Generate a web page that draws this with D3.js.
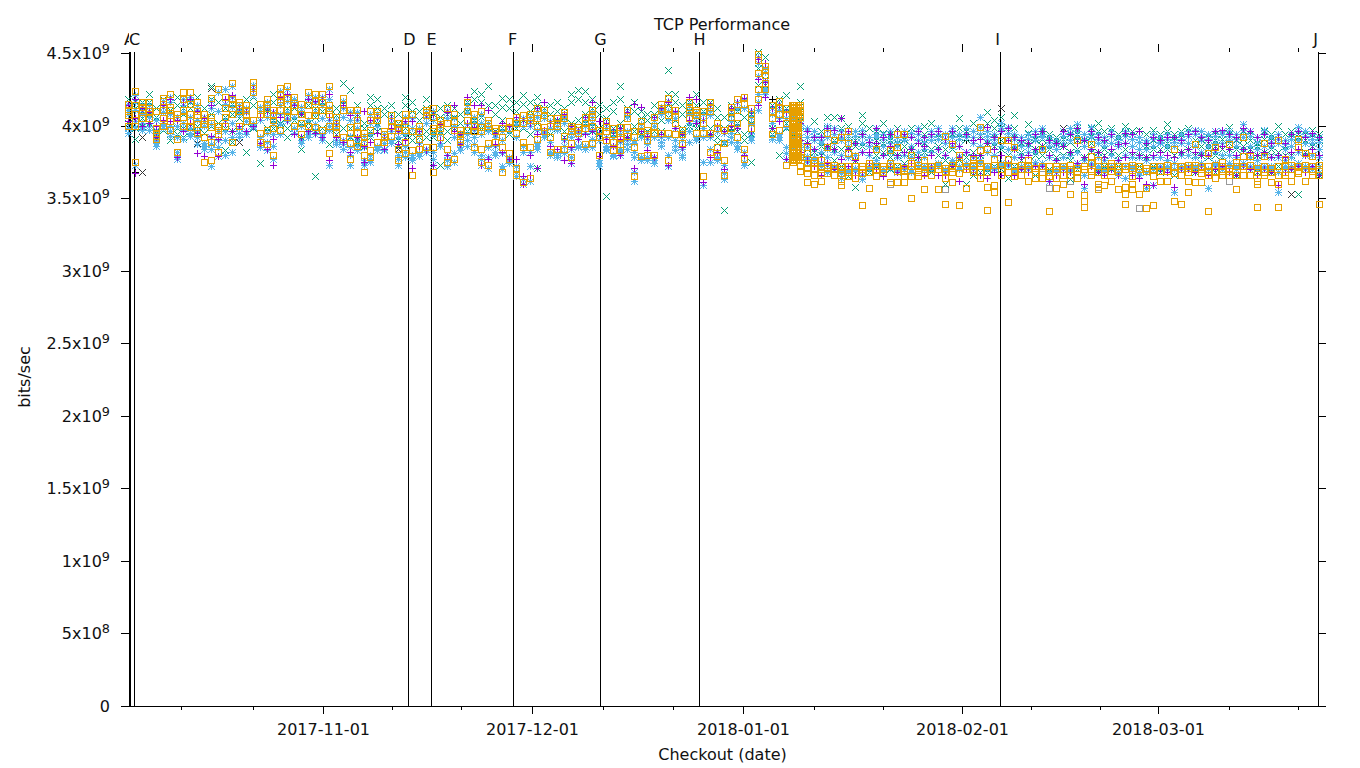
<!DOCTYPE html>
<html><head><meta charset="utf-8">
<script src="https://cdn.jsdelivr.net/npm/d3@7"></script>
<style>html,body{margin:0;background:#fff}svg{display:block}text{font-family:"DejaVu Sans";font-size:16px;fill:#111}</style>
</head><body><svg id="c" width="1360" height="768"></svg>
<script>
// values are in units of 1e7 bits/sec; each inner list is one day column, first column is day -1 (day 0 = 2017-10-05)
const firstDay = -1;
const orange = [
[415,407,400],[424,414,408,400,375],[416,411,405],[416,410,405],[410,398,395,391],[419,415,411,405,400],[422,411,407,403,397],[408,391,382],[423,411,406,400],[423,408,404,399],[416,407,401,395],[408,404,392,375],[419,403,399,389,376],[425,397,394,382],[420,406,400],[429,415,408,389],[416,414,410,400],[414,408,403],[430,423,404],[415,408,395,389],[418,412,408,397,387],[411,404,398,380],[426,421,416,411,397],[427,419,411,406],[420,410,400],[415,402,394],[423,407,400],[422,411,407,399],
[422,411,397],[427,414,408,400,381],[406,400,395],[419,411,392],[411,395,388,377],[411,400,395,386],[395,389,380,368],[410,397,383,378],[410,404,389],[396,392,389],[407,400,393],[402,397,384,376],[408,397,389,381],[408,383,366],[400,391,384],[411,407,385],[412,398,396,385,368],[404,398,392],[412,384,375],[408,397,377],[397,391,389],[416,404,397],[408,400,396,385],[410,396,384,375],[404,400,388,373],[396,389],[398,385,368],[403,381,377],[406,395,371,366],
[407,389,385,361],[408,404,385,364],[412,400,391],[411,399,396],[405,392,382],[405,400,384],[409,405,393,384],[400,396,388,378],[399,395],[406,398,387],[411,406,400,388],[397,380],[403,396,390],[398,389,383],[399,392,387,383],[411,399,393],[392,385,365],[403,396,379],[397,390,380],[406,395,380],[415,411,395],[419,407,395,376],[411,402,394],[397,388],[416,411,405],[411,407,395],[410,402,395,365],
[416,410,395,382],[402,385,379],[397,376,366],[413,406,398],[418,402,392],[420,384,377],[412,404,398],[449,436,425,418],[441,435,429,425],[414,405,394],[417,408,397],[412,402,373],
[414,412,410,408,406,404,402,400,398,396,394,392,390,388,386,384,382,380,378,376],[414,411,408,378,372,369],
[385,381,371,367,361],[376,371,366,360],[376,372,367,362],[395,385,371,367],[390,371,366],[392,372,367,362,359],[396,388,381,372,365],[379,368,364],[372,367,345],[372,368,357],[384,372,365],[372,368,348],[383,372,361],[394,385,369,361],[394,371,365,361],[380,372,365,350],[373,368,365],
[376,370,367,356],[370,366],[370,356],[393,369,364,346],[387,373,368,361],[380,367,345],[370,357],[377,374,370,368],[399,383,374,368,364],[384,368,358,342],
[377,359,354],[390,370,366],[390,377,368,347],[385,369,365],[373,366],[376,370,362],[368,364],[384,368,364],[368,365,341],[370,364,357],[372,366,360],[370,366,353],[390,369,364],[370,352,348,344],[387,379,369,366],[376,368,360,356],[372,366,359],[374,369,362],[372,368,356],[372,358,353,346],[373,365,360,356],[370,353],[369,357,343],[370,365,345],[369,362],[369,362],[384,367,348],[370,366,346],
[373,368,362,354],[387,371,361],[372,367,361],[381,369,366,341],[385,369,364],[375,369,366],[387,371,366],[375,366,356],[392,379,370,366],[379,366],[368,362,360,344],[388,379,368,366],[368,361],[390,366,360,344],[377,368,366],[373,366,362],[391,385,372,367],[381,370,362],[379,369,366],[373,366,346]
];
const orange2 = [
[410],[404],[413],[412],[393],[417],[413],[405],[418],[415],[410],[401],[406],[400],[412],[418],[412],[411],[426],[411],[415],[407],[418],[415],[414],[408],[414],[417],
[416],[411],[402],[415],[399],[404],[392],[404],[407],[394],[403],[399],[403],[396],[396],[409],[406],[401],[402],[403],[394],[410],[404],[399],[402],[398],[392],[398],[402],
[402],[406],[405],[407],[400],[402],[407],[398],[397],[402],[408],[392],[399],[394],[395],[405],[396],[400],[394],[400],[412],[412],[406],[394],[413],[409],[406],
[413],[398],[388],[409],[411],[415],[408],[445],[438],[410],[412],[407],
[413,411,409,407,405,403,401,399,397,395,393,391,389,387,385,383,381,379,377,375],[410,406],
[374],[374],[370],[373],[373],[370],[368],[372],[370],[374],[370],[370],[374],[372],[369],[374],[371],
[372],[372],[373],[371],[371],[374],[372],[372],[372],[372],
[373],[373],[372],[372],[370],[373],[371],[372],[372],[372],[370],[373],[371],[372],[374],[372],[370],[372],[370],[370],[371],[372],[371],[372],[372],[373],[372],[372],
[371],[373],[370],[372],[373],[372],[369],[372],[372],[373],[371],[372],[371],[372],[372],[370],[369],[373],[372],[370]
];
const orangeBurstDays = [94.9,95.2,95.5,95.8];
const orangeBurstValues = [414,413,412,411,410,409,408,407,406,405,404,403,402,401,400,399,398,397,396,395,394,393,392,391,390,389,388,387,386,385,384,383,382,381,380,379,378,377,376];
const blue = [
[415,408,398],[421,411,403,373],[414,408,402,397],[414,406,400],[404,394,390,386],[417,409,402,398],[420,408,400,393],[406,392,382,377],[418,409,402,391],[420,406,398,393],[414,404,396,387],[406,400,388,384],[417,401,392,384,372],[423,396,390,379],[425,404,396,380],[427,413,402,382],[414,408,398,392],[412,403,396],[428,421,402,399],[413,404,392,385],[416,406,395,383],[409,402,394,377],[424,414,408,394],[425,417,409,403],[418,406,398],[413,400,390],[421,404,396,392],[420,409,401,394],
[420,405,394,390],[425,412,404,397,373],[404,398,390,387],[417,406,390,384],[409,393,385,373],[409,398,390,383],[393,385,376,373],[408,394,380,375],[408,400,386,383],[394,388,384],[405,396,390],[400,392,380,373],[406,394,386,378],[405,380,376],[398,388,381],[409,402,382],[410,394,382,373],[402,394,388],[410,380,372],[405,392,375],[395,388,385],[414,401,394,386],[406,397,392,382],[408,394,380,373],[402,396,385,371],[394,386,380],[396,381,370],[400,378,374],[404,392,368,365],
[405,386,382,360],[406,400,382,362],[410,397,388,384],[409,396,392],[403,389,380],[403,397,381,378],[407,402,390,381],[398,392,384,374],[397,391,386],[404,395,384],[409,402,397,385],[395,376,372],[401,392,386,383],[396,386,380],[397,389,384,380],[409,396,390,384],[390,382,378,362],[401,392,376],[395,387,376],[404,392,378,374],[413,408,392,386],[417,404,392,372],[409,398,390,383],[395,384,380],[414,408,402,389],[409,403,392],[408,398,392,359],
[414,407,392,375],[400,382,376],[395,373,363],[411,403,395,389],[416,400,389,384],[418,382,373],[410,401,395,390],[447,434,422,411],[440,431,426,422],[412,402,391],[415,405,394,390],[410,399,385,377],
[410,405,400,395,392,388,384,378],[404,398,392,385,378],
[398,392,385,379,375],[396,390,384,378],[393,388,382,374],[400,392,384,378,368],[398,388,382,370],[396,390,380,369,364],[394,386,378,370],[396,388,380,371],[397,388,382,363],[392,386,380,372],[398,392,384,376],[394,386,380,370],[396,388,382,374],[392,386,378,370],[396,390,380,372],[395,386,378,368],[398,390,382,375],
[392,384,378,372],[396,390,382,370],[398,391,384,374],[394,388,380,370],[398,392,386,376],[394,386,379,370],[398,392,382,374],[396,388,378,372],[406,394,386,376],[396,390,382,372],
[394,388,380,370],[402,396,386,372],[399,392,384,374],[394,386,378,370],[392,386,380,372],[394,386,382,370],[396,390,382,375],[398,392,384,374],[392,386,378,362],[390,384,376,368],[396,388,378,370],[398,390,380,368],[401,392,382,372],[394,386,376,357],[399,392,384,372],[394,388,378,372],[392,386,376,368],[396,388,380,371],[392,386,376,366],[396,388,380,364],[394,386,378,370],[392,384,378,366],[390,384,376,357],[394,386,378,359],[392,388,378,370],[394,386,376,370],[392,386,374,354],[394,388,380,370],
[396,388,380,370],[397,386,378,372],[396,390,382,374],[394,386,380,357],[396,388,382,372],[394,388,380,372],[396,390,380,374],[394,386,378,370],[401,392,384,374],[396,386,378,372],[392,384,376,370],[397,386,380,372],[392,386,378,370],[394,388,378,354],[390,384,376,370],[394,386,378,372],[399,390,382,374],[396,388,380,370],[394,388,380,372],[392,384,378,368]
];
const blue2 = [
[411,395],[416,399],[411,399],[410,397],[397,388],[413,400],[416,396],[400,379],[414,397],[417,395],[411,392],[403,386],[412,387],[410,385],[415,390],[420,392],[411,395],[409,394],[425,400],[410,388],[412,389],[406,386],[419,401],[421,405],[415,395],[410,388],[418,394],[416,397],
[414,392],[418,400],[401,389],[412,387],[404,380],[404,386],[390,375],[402,377],[405,385],[391,383],[402,388],[396,377],[402,382],[398,378],[394,379],[406,384],[404,377],[399,386],[405,376],[400,381],[392,383],[409,390],[402,387],[402,377],[399,378],[392,382],[390,372],[396,376],[401,372],
[400,363],[403,372],[406,386],[405,394],[398,382],[400,380],[405,386],[395,378],[395,385],[400,386],[406,391],[390,374],[398,384],[392,379],[394,382],[406,387],[388,368],[398,378],[391,378],[400,376],[411,389],[410,380],[405,386],[390,378],[411,396],[406,390],[404,375],
[410,384],[396,378],[389,367],[407,392],[412,386],[412,375],[406,392],[443,416],[437,424],[408,392],[411,392],[405,381],
[407,397,386,381],[401,388],
[396,377],[393,376],[390,372],[397,373],[394,372],[392,367],[390,368],[393,369],[393,366],[389,370],[394,373],[391,368],[392,371],[389,368],[393,370],[392,370],[394,372],
[389,370],[393,372],[394,372],[391,368],[395,374],[391,372],[394,372],[392,370],[399,374],[393,370],
[391,371],[398,374],[395,372],[391,368],[389,370],[391,372],[393,373],[394,372],[389,368],[387,370],[393,372],[395,370],[396,374],[391,366],[395,374],[391,370],[389,370],[393,372],[389,368],[393,372],[391,372],[389,368],[388,368],[391,370],[389,372],[391,372],[389,370],[391,372],
[393,372],[394,370],[393,372],[391,370],[393,374],[396,370],[393,372],[391,372],[397,372],[393,370],[389,372],[394,370],[389,372],[391,368],[387,372],[391,370],[396,372],[393,372],[391,370],[389,372]
];
const purple = [
[414,403],[418,405,367],[412,400],[409,402],[400,392],[414,404],[418,403],[404,378],[416,396],[418,402],[410,395,381],[405,379],[414,393],[391,379],[418,402],[421,396],[412,400],[410,396],[425,400],[406,388],[410,384],[409,391,373],[420,406],[422,404],[414,394],[408,392],[418,396],[417,395],
[418,392],[422,406,376],[402,392],[414,389],[407,382],[406,392],[410,386,375],[404,389],[406,395],[392,384],[405,398],[387,396],[403,390],[403,371],[396,386],[407,383],[408,373],[401,390],[409,380],[414,396],[394,387],[420,402],[414,399],[414,373],[411,377],[395,387],[402,382],[400,377],[406,377],
[404,365,360],[402,380,366],[412,394,371],[416,397],[402,386],[404,384],[408,391,376],[400,385,374],[397,391],[406,394],[416,396],[403,379,395],[402,391],[396,386],[398,391,380],[409,392],[415,371],[413,396],[393,383],[406,378],[412,394],[416,373],[410,398],[394,385],[420,404],[418,402],[404,361],
[414,394,378],[400,382],[396,370],[412,400],[416,398],[419,380],[410,396],[446,432,414],[443,430,420],[412,398],[414,403],[409,377],
[408,400,392,386],[402,390,382],
[396,388,376],[392,384,372],[392,378,366],[398,386,374],[397,384,370],[405,394,377],[396,384,372],[388,376,366],[394,382,368],[389,382,374],[398,388,370],[392,380,365],[394,386,372],[396,380,368],[394,382,372],[392,384,374],[396,388,378],
[392,386,366],[394,380,372],[396,384,366],[391,380,366],[396,388,372],[386,378,362],[394,382,370],[390,380,368],[391,380,366],[399,388,364],
[392,384,368],[396,380,366],[398,390,374],[392,384,366],[390,378,370],[388,380,368],[394,384,372],[396,386,372],[390,380,362],[388,376,366],[396,386,368],[394,382,368],[398,388,374],[390,378,360],[396,384,372],[392,382,368],[390,378,366],[394,384,370],[387,376,366],[395,388,378],[394,382,366],[396,380,364],[388,378,360],[392,380,359],[390,382,370],[392,380,368],[392,378,358],[390,382,370],
[394,384,370],[396,382,368],[392,380,372],[390,380,366],[396,384,370],[397,386,372],[394,384,368],[392,380,366],[398,384,372],[396,382,370],[392,380,366],[394,382,370],[388,378,368],[392,380,359],[388,378,368],[394,382,370],[396,384,372],[392,380,368],[395,384,372],[392,380,366]
];
const green = [
[418,408],[417,391],[416,405],[422,408],[412,396],[418,402],[416,390],[420,398],[412,392],[416,396],[420,400],[412,388],[427,408],[416,402],[383,412],[389,415],[392,410],[382,418],[420,402],[374,410],[416,396],[422,404],[414,400],[412,392],[418,404],[384,408],[420,402],[365,412],
[416,398],[387,418],[412,400],[429,406],[424.5,398],[414,392],[402,386],[420,396],[418,402],[412,394],[414,402],[408,386],[420,398],[416,394],[410,388],[418,396],[408,392],[373,412],[414,396],[412,392],[385,408],[416,400],[424,404],[422,406],[427,402],[414,396],[419,404],[418,400],[416,398],
[421,404],[416,400],[420,371],[412,396],[414,398],[416,404],[412,392],[422,402],[424.5,404],[424,408],[418,400],[414,398],[351.5,412],[416,398],[427,402],[412,396],[416,400],[410,398],[408,392],[414,400],[410,396],[438,414],[422,404],[414,398],[416,400],[422,402],[416,404],
[416,398],[412,392],[342,406],[414,398],[416,402],[412,394],[375,408],[451,428],[447,432],[414,398],[418,380],[421,402],
[412,404,394],[427,410,400],
[398,388,376],[403,390,378],[396,386,372],[406,392,378],[406,390,376],[405,392,372],[400,384,365],[396,386,358],[407,402,382],[398,386,368],[396,386,372],[402,388,368],[394,384,370],[398,388,372],[396,386,374],[398,384,368],[394,382,372],
[400,388,372],[402,390,368],[398,386,374],[394,384,360],[398,392,372],[405,392,376],[396,360],[402,388,366],[399,386,368],[409.6,396,368],
[404,392,372],[406,390,370],[396,384,364],[407,392,372],[392,382,370],[401,388,370],[396,384,366],[396,386,372],[394,384,370],[392,384,368],[396,386,372],[394,382,363],[398,390,370],[394,386,366],[398,388,372],[401.5,388,368],[396,384,372],[398,388,370],[394,386,372],[400,388,372],[396,386,370],[397,384,372],[394,386,368],[397,390,372],[394,384,368],[401,388,372],[394,386,366],[396,388,372],
[398,388,372],[394,386,368],[396,386,372],[392,384,370],[394,386,368],[396,384,370],[399,388,372],[394,384,366],[396,386,372],[394,384,370],[392,386,368],[396,386,372],[394,384,368],[400,388,372],[394,386,370],[396,386,372],[353,392,372],[394,388,370],[397,386,372],[394,384,366]
];
const green2 = [
[412,402],[412,398],[410,400],[416,402],[406,392],[414,397],[411,396],[414,394],[408,398],[412,400],[414,394],[406,395],[418,400],[410,396],[406,398],[408,396],[405,398],[412,402],[414,398],[404,392],[410,398],[416,398],[408,402],[408,398],[412,398],[402,392],[414,398],[406,396],
[410,394],[412,398],[407,394],[415,398],[404,392],[408,388],[398,390],[414,392],[412,396],[408,388],[408,396],[402,390],[414,392],[410,390],[404,392],[412,392],[404,396],[406,396],[408,390],[406,398],[402,394],[410,396],[418,398],[416,398],[414,398],[408,392],[413,398],[412,394],[410,402],
[415,398],[410,394],[414,402],[408,392],[408,394],[410,398],[406,396],[416,398],[418,398],[416,402],[412,396],[408,394],[405,398],[410,394],[418,398],[408,392],[410,396],[405,394],[404,396],[408,396],[404,392],[422,406],[416,398],[408,394],[410,396],[414,398],[410,398],
[410,394],[406,388],[398,388],[408,396],[410,396],[406,390],[402,394],[440,422],[438,428],[408,394],[412,394],[412,398],
[408,396,388],[416,406,392],
[392,384],[396,382],[390,380],[398,386],[398,384],[398,384],[393,378],[390,376],[394,386],[392,380],[390,380],[395,382],[390,378],[392,380],[391,381],[392,380],[389,378],
[394,382],[396,384],[392,380],[388,376],[394,384],[398,386],[391,378],[396,382],[393,380],[402,388],
[398,386],[399,384],[391,380],[398,384],[388,376],[395,382],[391,380],[391,380],[390,378],[388,378],[391,380],[389,376],[394,384],[390,378],[393,382],[396,382],[391,380],[393,382],[390,380],[395,384],[391,380],[392,380],[390,378],[393,384],[390,378],[396,384],[390,380],[392,382],
[393,384],[390,380],[391,380],[388,378],[390,380],[391,378],[394,384],[390,378],[391,382],[390,378],[388,380],[391,382],[390,380],[394,382],[390,380],[392,380],[394,382],[390,382],[392,380],[390,378]
];
// faint extra runs: [day, value]
const blackCross = [[1,392],[1,368],[9,388],[11,426],[15,389],[26,365],[38,384],[64,398],[125,412],[134,398],[167,353]];
const blackPlus = [[0,368],[9,381],[49,395],[92,418],[120,390]];
const graySquare = [[109,360],[112,350],[117,356],[132,357],[135,362],[139,358],[145,343],[131,371],[158,362]];
const yTicks = [[0,"0",""],[0.5,"5x10","8"],[1,"1x10","9"],[1.5,"1.5x10","9"],[2,"2x10","9"],[2.5,"2.5x10","9"],[3,"3x10","9"],[3.5,"3.5x10","9"],[4,"4x10","9"],[4.5,"4.5x10","9"]];
// tick and marker positions in days after 2017-10-05
const majorDays = [27.1,57.4,87.8,119.4,147.7];
const majorLabels = ["2017-11-01","2017-12-01","2018-01-01","2018-02-01","2018-03-01"];
const minorDays = [6.64,17.0,37.1,47.1,67.6,77.7,98.0,108,129.4,139.3,158,168];
const markerDays = [-0.87,-0.72,-0.14,39.42,42.74,54.58,67.15,81.44,124.9,170.83];
const markerNames = ["A","","C","D","E","F","G","H","I","J"];
const markerShift = [0,0,0,1,0,-1,0,0,-3,-3];

const svg = d3.select("#c");
const x = d3.scaleLinear().domain([-1,171]).range([128.07,1319.17]);
const y = d3.scaleLinear().domain([0,4.5e9]).range([706,53]);
const px = v => Math.round(x(v))+0.5, py = v => Math.round(y(v*1e7))+0.5;

const g = svg.append("g");
const xL = x(-0.87), xR = x(170.83);
const axis = g.append("g").attr("shape-rendering","crispEdges").attr("stroke","#000");
axis.append("line").attr("x1",Math.round(xL)).attr("x2",Math.round(xR)).attr("y1",706.5).attr("y2",706.5);
yTicks.forEach(t=>{
  const yy=Math.round(y(t[0]*1e9))+0.5;
  axis.append("line").attr("x1",121).attr("x2",129).attr("y1",yy).attr("y2",yy);
  axis.append("line").attr("x1",1318).attr("x2",1326).attr("y1",yy).attr("y2",yy);
  const tx=g.append("text").attr("x",110).attr("y",yy+5.5).attr("text-anchor","end").text(t[1]);
  if(t[2]) tx.append("tspan").attr("dy",-6).style("font-size","12.8px").text(t[2]);
});
majorDays.forEach((d,i)=>{
  const xx=px(d);
  axis.append("line").attr("x1",xx).attr("x2",xx).attr("y1",706).attr("y2",714);
  axis.append("line").attr("x1",xx).attr("x2",xx).attr("y1",44).attr("y2",52);
  g.append("text").attr("x",xx).attr("y",735).attr("text-anchor","middle").text(majorLabels[i]);
});
minorDays.forEach(d=>{
  const xx=px(d);
  axis.append("line").attr("x1",xx).attr("x2",xx).attr("y1",706).attr("y2",710);
  axis.append("line").attr("x1",xx).attr("x2",xx).attr("y1",48).attr("y2",52);
});
svg.append("defs").append("clipPath").attr("id","lab").append("rect").attr("x",0).attr("y",0).attr("width",129).attr("height",768);
markerDays.forEach((d,i)=>{
  const xx=px(d);
  axis.append("line").attr("x1",xx).attr("x2",xx).attr("y1",52).attr("y2",706);
  if(markerNames[i]){
    const t=g.append("text").attr("x",xx+markerShift[i]).attr("y",45).attr("text-anchor","middle").text(markerNames[i]);
    if(i==0) t.attr("clip-path","url(#lab)");
  }
});
g.append("text").attr("x",722).attr("y",30).attr("text-anchor","middle").text("TCP Performance");
g.append("text").attr("x",722.5).attr("y",760).attr("text-anchor","middle").text("Checkout (date)");
g.append("text").attr("transform","translate(30,377) rotate(-90)").attr("text-anchor","middle").text("bits/sec");

const plus=`M-3.5 0H3.5M0 -3.5V3.5`;
const cross=`M-3.5 -3.5L3.5 3.5M-3.5 3.5L3.5 -3.5`;
const star=plus+cross;
const square=`M-3 -3H3V3H-3Z`;
function flat(cols){const o=[];cols.forEach((c,i)=>c.forEach(v=>o.push([firstDay+i,v])));return o;}
function draw(points,shape,color){
  svg.append("g").attr("fill","none").attr("stroke",color).attr("shape-rendering","crispEdges")
    .selectAll("path").data(points).join("path").attr("d",shape)
    .attr("transform",d=>`translate(${px(d[0])},${py(d[1])})`);
}
draw(blackPlus,plus,"#000");
draw(blackCross,cross,"#333");
draw(graySquare,square,"#999");
draw(flat(green).concat(flat(green2)),cross,"#009e73");
draw(flat(blue).concat(flat(blue2)),star,"#56b4e9");
draw(flat(purple),plus,"#9400d3");
draw(flat(orange).concat(flat(orange2)),square,"#e69f00");
draw(orangeBurstDays.flatMap(d=>orangeBurstValues.map(v=>[d,v])),square,"#e69f00");
</script></body></html>
